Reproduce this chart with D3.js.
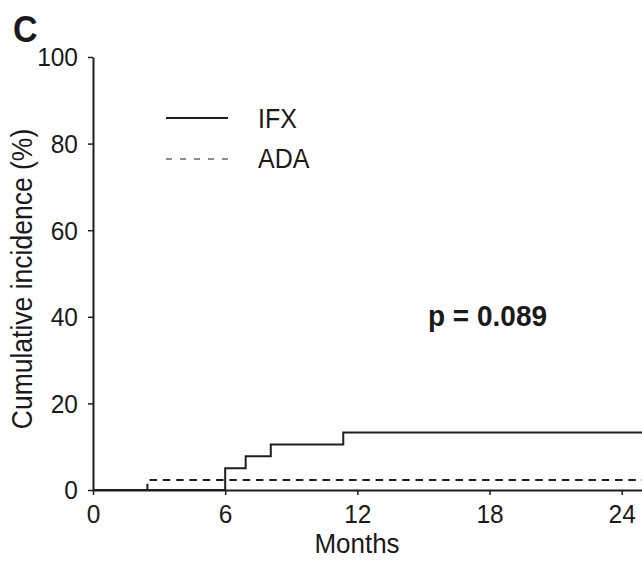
<!DOCTYPE html>
<html><head><meta charset="utf-8">
<script src="https://cdn.jsdelivr.net/npm/d3@7"></script>
<style>body{margin:0;background:#fff}svg{display:block}text{font-family:"Liberation Sans",Arial,sans-serif;fill:#1a1a1a}</style>
</head><body><svg id="c" width="642" height="562"></svg>
<script>
const xTicks = [0, 6, 12, 18, 24];
const yTicks = [0, 20, 40, 60, 80, 100];
const ifxTimes = [0, 6.0, 6.93, 8.07, 11.36, 25];
const ifxValues = [0, 5.0, 7.8, 10.5, 13.3, 13.3];
const adaTimes = [0, 2.47, 25];
const adaValues = [0, 2.3, 2.3];
const seriesNames = ["IFX", "ADA"];
const pLabel = "p = 0.089";

const svg = d3.select("#c");
const x = d3.scaleLinear().domain([0, 25]).range([93, 93 + 25 * 22.03]);
const y = d3.scaleLinear().domain([0, 100]).range([490, 57]);
const ink = "#1e1e1e";
const SY = 1.08;

function stretch(sel) {
  sel.each(function () {
    const t = d3.select(this);
    const tx = +t.attr("x") || 0, ty = +t.attr("y") || 0;
    const rot = t.attr("data-rot");
    t.attr("x", 0).attr("y", 0)
      .attr("transform", `translate(${tx},${ty})` + (rot ? ` rotate(${rot})` : "") + ` scale(1,${SY})`);
  });
}

const line = d3.line().x(d => x(d[0])).y(d => y(d[1])).curve(d3.curveStepAfter);

svg.append("path").datum(adaTimes.map((t, i) => [t, adaValues[i]]))
  .attr("d", line).attr("fill", "none").attr("stroke", ink)
  .attr("stroke-width", 2).attr("stroke-dasharray", "7.5,5.8");
svg.append("path").datum(ifxTimes.map((t, i) => [t, ifxValues[i]]))
  .attr("d", line).attr("fill", "none").attr("stroke", ink).attr("stroke-width", 2);

const xa = svg.append("g").attr("transform", `translate(0,${y(0)})`)
  .call(d3.axisBottom(x).tickValues(xTicks).tickSize(5).tickPadding(8).tickSizeOuter(0));
const ya = svg.append("g").attr("transform", `translate(${x(0)},0)`)
  .call(d3.axisLeft(y).tickValues(yTicks).tickSize(5).tickPadding(10).tickSizeOuter(0));
[xa, ya].forEach(a => {
  a.select(".domain").attr("stroke", ink).attr("stroke-width", 2);
  a.selectAll(".tick line").attr("stroke", ink).attr("stroke-width", 1.5);
  a.selectAll(".tick text").attr("font-size", 24.5).attr("fill", "#1a1a1a")
    .style("font-family", '"Liberation Sans",Arial,sans-serif');
});
xa.selectAll(".tick text").attr("dy", null).attr("y", 33);
ya.selectAll(".tick text").attr("dy", "0.34em").attr("x", -15);
stretch(xa.selectAll(".tick text"));
stretch(ya.selectAll(".tick text"));

stretch(svg.append("text").attr("x", 357).attr("y", 553).attr("text-anchor", "middle")
  .attr("font-size", 26).text("Months"));
stretch(svg.append("text").attr("x", 32).attr("y", 279).attr("data-rot", -90)
  .attr("text-anchor", "middle").attr("font-size", 26.5).text("Cumulative incidence (%)"));
stretch(svg.append("text").attr("x", 13).attr("y", 42).attr("font-size", 34)
  .attr("font-weight", "bold").text("C"));
stretch(svg.append("text").attr("x", 428).attr("y", 326).attr("font-size", 28)
  .attr("font-weight", "bold").text(pLabel));

const leg = svg.append("g");
leg.append("line").attr("x1", 166).attr("x2", 228).attr("y1", 118).attr("y2", 118)
  .attr("stroke", ink).attr("stroke-width", 2);
leg.append("line").attr("x1", 166).attr("x2", 228).attr("y1", 159).attr("y2", 159)
  .attr("stroke", ink).attr("stroke-width", 1.2).attr("stroke-dasharray", "6,8");
stretch(leg.append("text").attr("x", 258).attr("y", 128).attr("font-size", 25).text(seriesNames[0]));
stretch(leg.append("text").attr("x", 258).attr("y", 168).attr("font-size", 25).text(seriesNames[1]));
</script></body></html>
